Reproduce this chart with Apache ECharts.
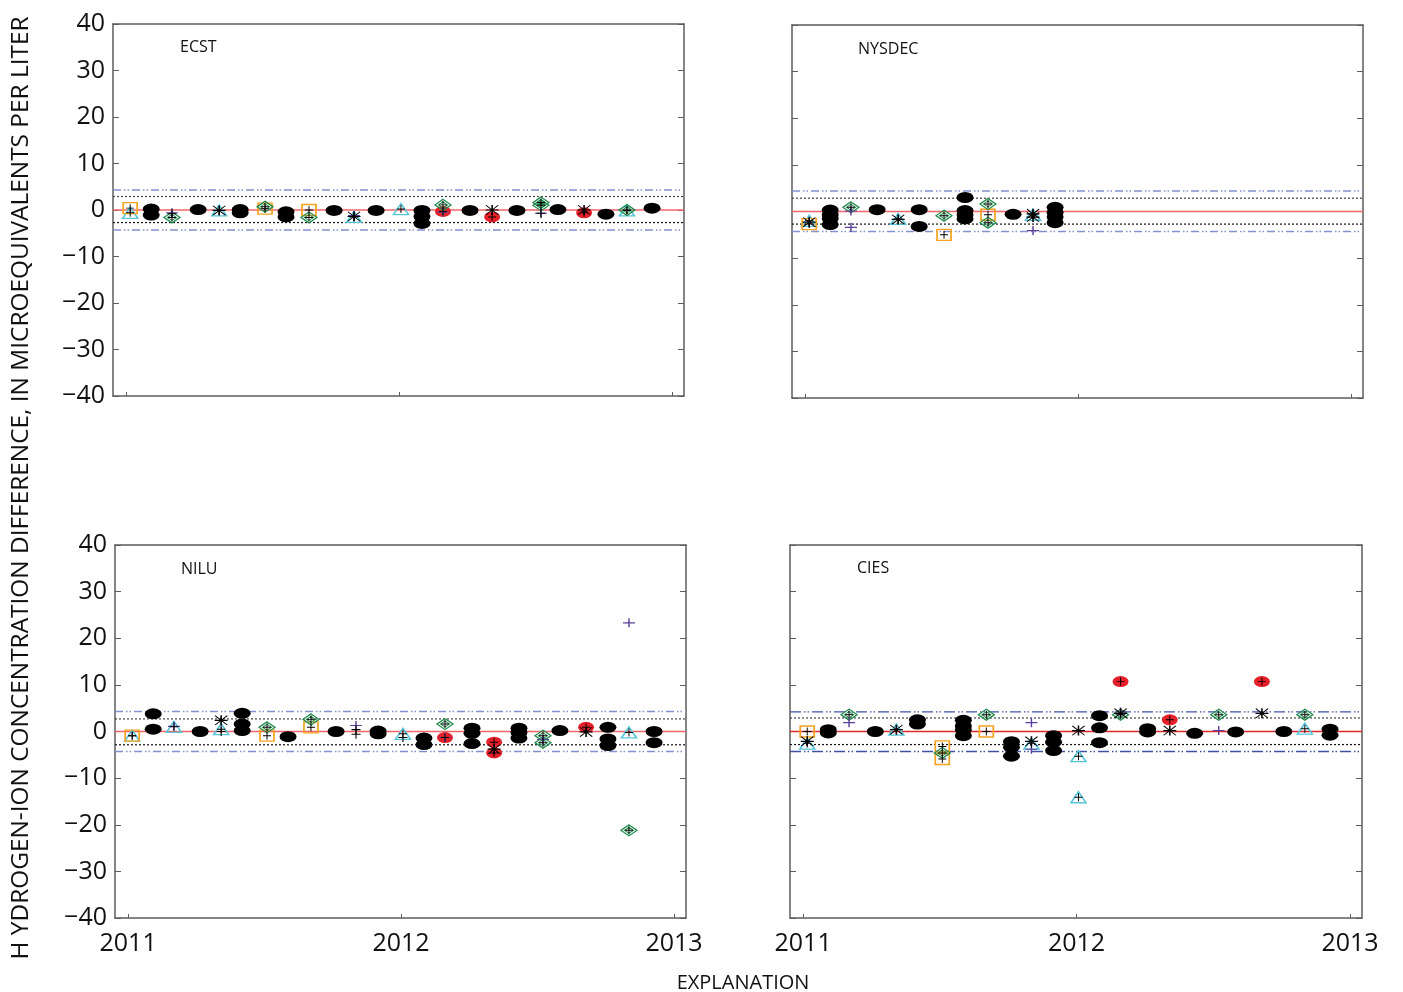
<!DOCTYPE html>
<html><head><meta charset="utf-8">
<script src="https://cdn.jsdelivr.net/npm/echarts@6/dist/echarts.min.js"></script>
<style>html,body{margin:0;padding:0;background:#fff}#c{width:1403px;height:992px}</style>
</head><body><div id="c"></div>
<script>
// ---------------- DATA ----------------
const panelNames = ['ECST', 'NYSDEC', 'NILU', 'CIES'];
const yearTicks = [2011, 2012, 2013];
const yTicks = [-40, -30, -20, -10, 0, 10, 20, 30, 40];
// sample dates (decimal years), referenced by index in the marker arrays
const sampleDates = [2011.015, 2011.092, 2011.168, 2011.264, 2011.341, 2011.418, 2011.509, 2011.586,
  2011.670, 2011.762, 2011.835, 2011.916, 2012.007, 2012.084, 2012.161, 2012.260, 2012.341, 2012.432,
  2012.520, 2012.582, 2012.678, 2012.758, 2012.835, 2012.927];

// control limits per panel: [upper, lower]
const outerLimits = [[4.3, -4.3], [4.4, -4.3], [4.3, -4.3], [4.2, -4.3]];
const innerLimits = [[2.9, -2.7], [2.85, -2.7], [2.7, -2.85], [2.9, -2.8]];

// [dateIndex, value] pairs
const ecstBlack = [[1,0.2],[1,-1.1],[3,0.1],[5,0.1],[5,-0.6],[7,-0.4],[7,-1.5],[9,-0.1],[11,-0.1],[13,-0.1],[13,-1.4],[13,-2.9],[15,-0.1],[17,-0.1],[19,0.1],[21,-0.9],[23,0.4]];
const ecstTriangle = [[0,-0.6],[4,-0.1],[10,-1.5],[12,0.2],[22,-0.1]];
const ecstSquare = [[0,0.4],[6,0.3],[8,0.0]];
const ecstDiamond = [[2,-1.6],[6,0.7],[8,-1.6],[14,1.1],[18,1.6],[18,1.0],[22,0.0]];
const ecstRed = [[14,-0.3],[16,-1.5],[20,-0.6]];
const ecstAsterisk = [[4,-0.1],[10,-1.4],[16,0.0],[20,0.0]];
const ecstPurple = [[2,-0.6],[10,-1.2],[14,-0.5],[18,-0.7]];
const ecstPlus = [[2,-0.8],[18,-0.7]];

const nyBlack = [[1,0.3],[1,-0.7],[1,-1.5],[1,-2.8],[3,0.4],[5,0.4],[5,-3.2],[7,3.0],[7,0.2],[7,-0.7],[7,-1.6],[9,-0.6],[11,0.9],[11,-0.2],[11,-1.2],[11,-2.4]];
const nyTriangle = [[0,-2.0],[4,-1.6],[10,-0.7]];
const nySquare = [[0,-2.7],[6,-5.0],[8,-0.7]];
const nyDiamond = [[2,0.9],[6,-0.9],[8,1.6],[8,-2.4]];
const nyRed = [];
const nyAsterisk = [[0,-2.3],[4,-1.7],[10,-0.5],[10,-1.2]];
const nyPurple = [[2,0.1],[2,-3.4],[10,-4.1]];
const nyPlus = [];

const niBlack = [[1,3.8],[1,0.5],[3,0.0],[5,3.9],[5,1.6],[5,0.2],[7,-1.1],[9,0.0],[11,0.1],[11,-0.5],[13,-1.4],[13,-2.8],[15,0.7],[15,-0.4],[15,-2.6],[17,0.7],[17,-0.2],[17,-1.4],[19,0.2],[21,0.9],[21,-1.6],[21,-3.0],[23,0.0],[23,-2.4]];
const niTriangle = [[0,-0.9],[2,1.0],[4,0.5],[12,-0.5],[22,-0.2]];
const niSquare = [[0,-0.9],[6,-0.9],[8,0.9]];
const niDiamond = [[6,0.9],[8,2.6],[14,1.6],[18,-0.9],[18,-2.4],[22,-21.2]];
const niRed = [[14,-1.3],[16,-2.3],[16,-4.6],[20,0.9]];
const niAsterisk = [[4,2.4],[16,-3.8],[20,-0.1]];
const niPurple = [[2,1.1],[10,1.3],[14,-1.3],[18,-1.7],[22,23.3]];
const niPlus = [[4,0.0],[10,0.4],[10,-0.6],[12,-1.3]];

const ciBlack = [[1,0.4],[1,-0.3],[3,0.0],[5,2.5],[5,1.6],[7,2.4],[7,1.2],[7,0.4],[7,-0.9],[9,-2.2],[9,-3.4],[9,-5.3],[11,-0.9],[11,-2.3],[11,-4.1],[13,3.4],[13,0.8],[13,-2.4],[15,0.6],[15,-0.1],[17,-0.4],[19,-0.1],[21,0.0],[23,0.5],[23,-0.8]];
const ciTriangle = [[0,-2.6],[4,0.4],[10,-2.6],[12,-5.3],[12,-14.1],[22,0.6]];
const ciSquare = [[0,0.0],[6,-3.2],[6,-5.9],[8,0.0]];
const ciDiamond = [[2,3.6],[6,-4.6],[8,3.6],[14,3.6],[18,3.6],[22,3.6]];
const ciRed = [[14,10.7],[16,2.5],[20,10.7]];
const ciAsterisk = [[0,-2.1],[4,0.4],[10,-2.1],[12,0.2],[14,3.9],[16,0.2],[20,3.9]];
const ciPurple = [[2,1.9],[10,1.9],[10,-3.8],[18,0.2],[14,4.2]];
const ciPlus = [];

// ---------------- BUILD ----------------
const panelData = [
  {black: ecstBlack, tri: ecstTriangle, sq: ecstSquare, dia: ecstDiamond, red: ecstRed, ast: ecstAsterisk, pur: ecstPurple, plus: ecstPlus},
  {black: nyBlack, tri: nyTriangle, sq: nySquare, dia: nyDiamond, red: nyRed, ast: nyAsterisk, pur: nyPurple, plus: nyPlus},
  {black: niBlack, tri: niTriangle, sq: niSquare, dia: niDiamond, red: niRed, ast: niAsterisk, pur: niPurple, plus: niPlus},
  {black: ciBlack, tri: ciTriangle, sq: ciSquare, dia: ciDiamond, red: ciRed, ast: ciAsterisk, pur: ciPurple, plus: ciPlus}
];
const grids = [
  {left: 113, top: 24, width: 571, height: 372},
  {left: 792, top: 25, width: 571, height: 373},
  {left: 115, top: 545, width: 571, height: 373},
  {left: 790, top: 545, width: 572, height: 373}
];
const XMIN = 2010.952, XMAX = 2013.044;
const FONT = 'Open Sans';
const AX = '#5c5c5c';
const PLUS = 'path://M4.4,0H5.6V10H4.4Z M0,4.4H10V5.6H0Z';
const STAR = 'path://M4.4,0H5.6V10H4.4Z M0,4.4H10V5.6H0Z M0.6,0L10,9.4L9.4,10L0,0.6Z M9.4,0L10,0.6L0.6,10L0,9.4Z';

const xAxes = [], yAxes = [], series = [];
grids.forEach((g, i) => {
  const bottomRow = i >= 2, leftCol = (i % 2 === 0);
  xAxes.push({
    gridIndex: i, type: 'value', min: XMIN, max: XMAX, position: 'bottom',
    axisLine: {show: true, onZero: false, lineStyle: {color: AX, width: 1.5}},
    axisTick: {show: true, inside: true, length: 4, customValues: yearTicks, lineStyle: {color: AX}},
    axisLabel: {show: bottomRow, customValues: yearTicks, formatter: v => String(Math.round(v)),
      fontSize: 25, fontFamily: FONT, color: '#111', margin: 13},
    splitLine: {show: false}
  });
  xAxes.push({
    gridIndex: i, type: 'value', min: XMIN, max: XMAX, position: 'top',
    axisLine: {show: true, onZero: false, lineStyle: {color: AX, width: 1.5}},
    axisTick: {show: false}, axisLabel: {show: false}, splitLine: {show: false}
  });
  yAxes.push({
    gridIndex: i, type: 'value', min: -40, max: 40, interval: 10, position: 'left',
    axisLine: {show: true, onZero: false, lineStyle: {color: AX, width: 1.5}},
    axisTick: {show: true, inside: true, length: 6, lineStyle: {color: AX}},
    axisLabel: {show: leftCol, fontSize: 25, fontFamily: FONT, color: '#111', margin: 8,
      formatter: v => v < 0 ? '\u2212' + Math.abs(v) : String(v)},
    splitLine: {show: false}
  });
  yAxes.push({
    gridIndex: i, type: 'value', min: -40, max: 40, interval: 10, position: 'right',
    axisLine: {show: true, onZero: false, lineStyle: {color: AX, width: 1.5}},
    axisTick: {show: true, inside: true, length: 6, lineStyle: {color: AX}},
    axisLabel: {show: false}, splitLine: {show: false}
  });

  const xi = i * 2, yi = i * 2;
  const cies = i === 3;
  const refLine = (v, color, type, width) => ({
    type: 'line', xAxisIndex: xi, yAxisIndex: yi, data: [[XMIN, v], [XMAX, v]],
    symbol: 'none', silent: true, z: 1, animation: false,
    lineStyle: {color: color, type: type, width: width}
  });
  const outerColor = cies ? '#3f52a6' : '#8391cf';
  const outerType = cies ? [11, 3, 1.5, 2, 1.5, 3] : [8, 3, 1.5, 2, 1.5, 3];
  series.push(refLine(outerLimits[i][0], outerColor, outerType, 1.4));
  series.push(refLine(outerLimits[i][1], outerColor, outerType, 1.4));
  series.push(refLine(innerLimits[i][0], '#444', [2, 2], 1.2));
  series.push(refLine(innerLimits[i][1], '#111', [2, 2], 1.2));
  series.push(refLine(0, cies ? '#e02828' : '#f06468', 'solid', 1.3));

  const d = panelData[i];
  const pts = arr => arr.map(p => [sampleDates[p[0]], p[1]]);
  const sc = (arr, symbol, size, itemStyle, z) => ({
    type: 'scatter', xAxisIndex: xi, yAxisIndex: yi, data: pts(arr), symbol: symbol,
    symbolSize: size, itemStyle: Object.assign({opacity: 1}, itemStyle), z: z,
    silent: true, animation: false
  });
  const hollow = (c, w) => ({color: 'rgba(255,255,255,0)', borderColor: c, borderWidth: w || 1.5});
  series.push(sc(d.black, 'circle', [17, 11], {color: '#000'}, 3));
  series.push(sc(d.red, 'circle', [16, 11], {color: '#e8202a'}, 4));
  series.push(sc(d.tri, 'triangle', [15, 11], hollow('#55c6da'), 5));
  series.push(sc(d.sq, 'rect', [14, 11], hollow('#f6a21c'), 5));
  series.push(sc(d.dia, 'diamond', [16, 11], hollow('#1f8a4c', 1.3), 5));
  series.push(sc(d.dia, 'diamond', [9, 6], hollow('#1f8a4c', 1), 5));
  series.push(sc(d.pur, PLUS, [12, 9], {color: '#5b3f9a'}, 6));
  series.push(sc(d.ast, STAR, [13, 10], {color: '#000'}, 7));
  series.push(sc(d.plus, PLUS, [9, 9], {color: '#000'}, 7));
  // black plus drawn inside each coloured marker
  [d.red, d.tri, d.sq, d.dia].forEach(arr => series.push(sc(arr, PLUS, [8, 8], {color: '#000'}, 8)));
});

const chart = echarts.init(document.getElementById('c'), null, {renderer: 'canvas'});
const labelPos = [[180, 47], [858, 49], [181, 569], [857, 568]];
chart.setOption({
  animation: false,
  backgroundColor: '#fff',
  grid: grids,
  xAxis: xAxes,
  yAxis: yAxes,
  series: series,
  graphic: [
    ...panelNames.map((n, i) => ({type: 'text', x: labelPos[i][0], y: labelPos[i][1],
      style: {text: n, fontSize: 16, fontFamily: FONT, fill: '#111', textVerticalAlign: 'middle'}})),
    {type: 'text', x: 21, y: 488, rotation: Math.PI / 2,
      style: {text: 'H YDROGEN-ION CONCENTRATION DIFFERENCE, IN MICROEQUIVALENTS PER LITER',
        fontSize: 24.4, fontFamily: FONT, fill: '#111', textAlign: 'center', textVerticalAlign: 'middle'}},
    {type: 'text', x: 743, y: 983,
      style: {text: 'EXPLANATION', fontSize: 20, fontFamily: FONT, fill: '#111', textAlign: 'center', textVerticalAlign: 'middle'}}
  ]
});
</script>
</body></html>
